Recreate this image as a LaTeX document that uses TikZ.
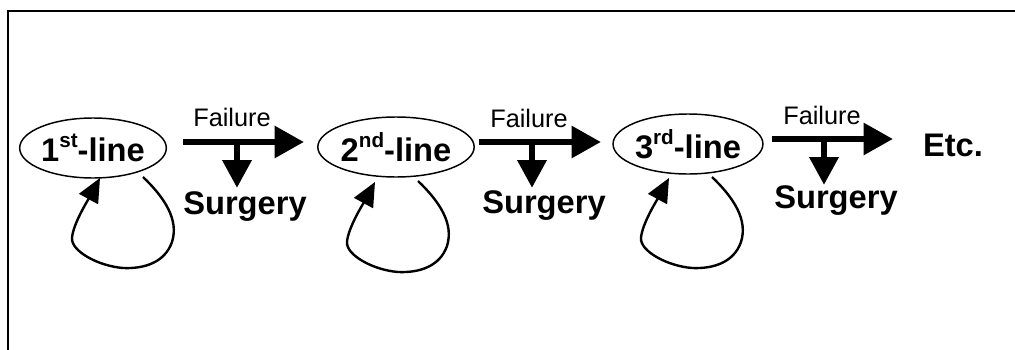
\documentclass[tikz,border=0pt]{standalone}
\usepackage{fontspec}
\setmainfont{Liberation Sans}
\usetikzlibrary{arrows.meta,shapes.geometric}
\tikzset{
  stage/.style={draw, line width=1.1pt, ellipse, minimum width=103pt, minimum height=45pt, inner sep=0pt,
    font=\fontsize{24.5}{28}\selectfont\bfseries},
  fail/.style={font=\fontsize{19}{22}\selectfont, inner sep=0pt},
  surg/.style={font=\fontsize{24.5}{28}\selectfont\bfseries, inner sep=0pt},
  fat/.style={line width=5pt, -{Triangle[length=22pt,width=23pt]}},
  fatdown/.style={line width=5pt, -{Triangle[length=21pt,width=21pt]}},
  loopline/.style={line width=1.8pt, -{Triangle[length=18pt,width=16pt]}},
  frame/.style={line width=1.1pt},
  pics/selfloop/.style={code={
    \coordinate (-s) at (50,29);
    \coordinate (-t) at (7,30);
    \draw[loopline] (-s) .. controls (72,50) and (86,72) .. (79,94)
       .. controls (72,114) and (52,121) .. (30,120)
       .. controls (5,118) and (-22,103) .. (-21,90)
       .. controls (-20,76) and (-5,52) .. (-t);
  }}
}
\newcommand{\sups}[1]{\raisebox{0.42em}{\fontsize{15.5}{15.5}\selectfont #1}}
\begin{document}
\begin{tikzpicture}[x=0.75pt,y=-0.75pt]
\useasboundingbox (0,0) rectangle (1015,350);
% frame (top and left edges only)
\coordinate (fa) at (8,350);
\coordinate (fb) at (8,11);
\coordinate (fc) at (1015,11);
\draw[frame] (fa) -- (fb) -- (fc);
% stages
\node[stage] (e1) at (93,148) {1\sups{st}-line\hspace{4pt}};
\node[stage] (e2) at (396,147) {2\sups{nd}-line\hspace{4pt}};
\node[stage] (e3) at (688,144) {3\sups{rd}-line\hspace{4pt}};
\node[surg] (etc) at (953,145) {Etc.};
% failure arrows
\coordinate (a1s) at (183,142); \coordinate (a1e) at (304,142);
\coordinate (a2s) at (479,142); \coordinate (a2e) at (601,142);
\coordinate (a3s) at (772,139); \coordinate (a3e) at (893,139);
\draw[fat] (a1s) -- (a1e);
\draw[fat] (a2s) -- (a2e);
\draw[fat] (a3s) -- (a3e);
\node[fail] (f1) at (232,117) {Failure};
\node[fail] (f2) at (529,118) {Failure};
\node[fail] (f3) at (822,115) {Failure};
% surgery branches
\coordinate (d1) at (237,142); \coordinate (d2) at (532,142); \coordinate (d3) at (824,139);
\node[surg] (s1) at (245,207) {Surgery};
\node[surg] (s2) at (544,206) {Surgery};
\node[surg] (s3) at (836,201) {Surgery};
\draw[fatdown] (d1) -- (237,188) coordinate (d1e);
\draw[fatdown] (d2) -- (532,188) coordinate (d2e);
\draw[fatdown] (d3) -- (824,185) coordinate (d3e);
% self loops
\pic (L1) at (93,148) {selfloop};
\pic (L2) at (368,152) {selfloop};
\pic (L3) at (662,148) {selfloop};
\end{tikzpicture}
\end{document}
